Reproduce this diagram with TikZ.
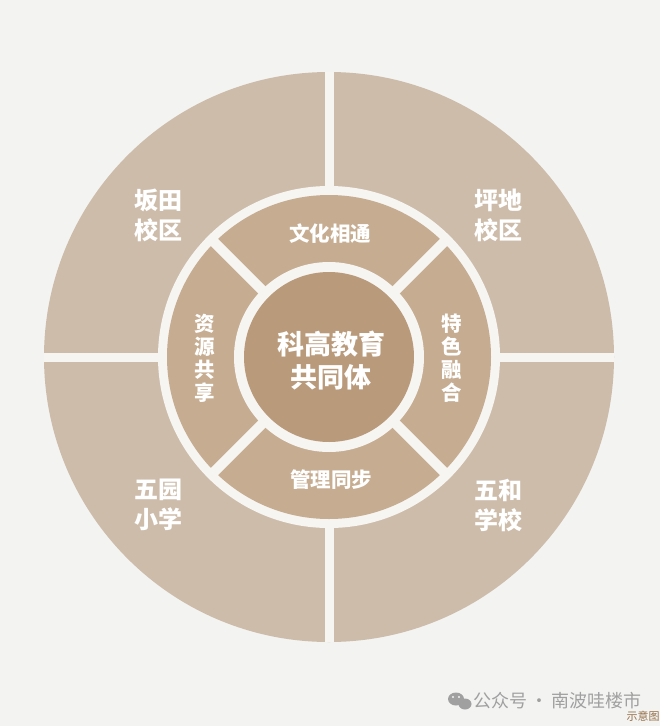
\documentclass[tikz,border=0pt]{standalone}
\usepackage{fontspec}
\newfontfamily\cjk{Noto Sans CJK SC}
\usepackage{tikz}
\usetikzlibrary{calc}

\begin{document}
\begin{tikzpicture}[x=1pt, y=-1pt,
    outerlbl/.style={text=white, align=center, font=\cjk\bfseries\fontsize{24}{30}\selectfont},
    midlbl/.style={text=white, align=center, font=\cjk\bfseries\fontsize{20.5}{23}\selectfont},
    corelbl/.style={text=white, align=center, font=\cjk\bfseries\fontsize{27}{33}\selectfont},
    gap/.style={draw=gapc, line cap=butt}]
    \definecolor{bgc}{RGB}{243,243,242}    % fondo
    \definecolor{gapc}{RGB}{247,245,242}   % separaciones
    \definecolor{outerc}{RGB}{205,188,170} % anillo exterior
    \definecolor{midc}{RGB}{198,172,144}   % anillo medio
    \definecolor{corec}{RGB}{185,154,123}  % centro
    \definecolor{footc}{RGB}{160,160,160}
    \definecolor{notec}{RGB}{150,110,70}

    \fill[bgc] (0,0) rectangle (660,726);
    \useasboundingbox (0,0) rectangle (660,726);

    \coordinate (c) at (329,357);

    % anillos
    \fill[outerc] (c) circle (285pt);
    \fill[gapc] (c) circle (171pt);
    \fill[midc] (c) circle (162pt);
    \fill[gapc] (c) circle (95pt);
    \fill[corec] (c) circle (85pt);

    % cortes
    \foreach \a in {0,90,180,270}
      \draw[gap, line width=9pt] ($(c)+(\a:166pt)$) -- ($(c)+(\a:285pt)$);
    \foreach \a in {45,135,225,315}
      \draw[gap, line width=10pt] ($(c)+(\a:90pt)$) -- ($(c)+(\a:166pt)$);

    % escuelas
    \node (bantian) at (158,215) [outerlbl] {坂田\\校区};
    \node (pingdi) at (498,215) [outerlbl] {坪地\\校区};
    \node (wuyuan) at (158,505) [outerlbl] {五园\\小学};
    \node (wuhe) at (498,505) [outerlbl] {五和\\学校};

    % anillo medio
    \node (wenhua) at (330,234) [midlbl] {文化相通};
    \node (guanli) at (331,480) [midlbl] {管理同步};
    \node (ziyuan) at (205,358) [midlbl] {资\\源\\共\\享};
    \node (tese) at (452,358) [midlbl] {特\\色\\融\\合};

    \node (core) at (331,361) [corelbl] {科高教育\\共同体};

    % pie
    \fill[footc] (456,699) ellipse (8pt and 6.5pt);
    \fill[footc] (465,704) ellipse (6.5pt and 5.5pt);
    \fill[bgc] (453,697) circle (1.1pt) (459,697) circle (1.1pt);
    \node (footer) at (473,701) [anchor=west, inner sep=0pt, text=footc, font=\cjk\fontsize{18}{20}\selectfont] {公众号\,·\,南波哇楼市};
    \node (note) at (643,716) [text=notec, font=\cjk\fontsize{11}{12}\selectfont] {示意图};
  \end{tikzpicture}
\end{document}
